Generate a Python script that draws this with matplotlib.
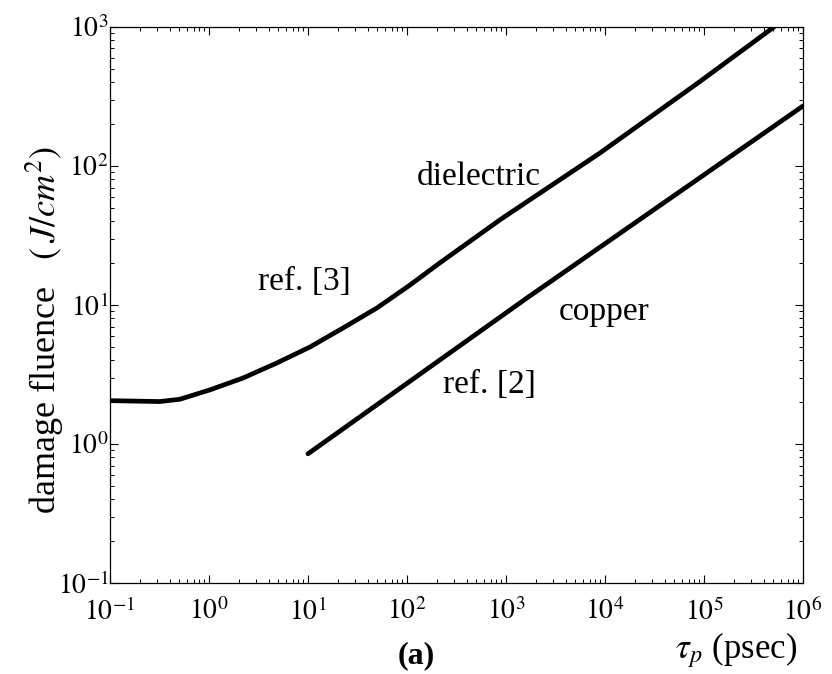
import matplotlib
matplotlib.use("Agg")
import matplotlib.pyplot as plt
from matplotlib.ticker import LogLocator, FixedLocator, FixedFormatter, NullFormatter

plt.rcParams['font.family'] = ['Liberation Serif', 'DejaVu Serif']
plt.rcParams['mathtext.fontset'] = 'stix'

# Data
diel_tau = [0.1, 0.32, 0.51, 1.02, 2.2, 4.86, 10.5, 22.6, 49.8, 107, 215, 870, 8900, 91000, 5.1e5]
diel_F = [2.05, 2.02, 2.10, 2.45, 2.98, 3.83, 4.99, 6.83, 9.52, 13.9, 20.1, 41, 124, 405, 1000]

cu_tau = [10, 1620, 1e6]
cu_F = [0.85, 11.2, 270]

x_ticks = [1e-1, 1e0, 1e1, 1e2, 1e3, 1e4, 1e5, 1e6]
x_ticklabels = [r'$10^{-1}$', r'$10^{0}$', r'$10^{1}$', r'$10^{2}$', r'$10^{3}$',
                r'$10^{4}$', r'$10^{5}$', r'$10^{6}$']
y_ticks = [1e-1, 1e0, 1e1, 1e2, 1e3]
y_ticklabels = [r'$10^{-1}$', r'$10^{0}$', r'$10^{1}$', r'$10^{2}$', r'$10^{3}$']

fig = plt.figure(figsize=(8.32, 6.74), dpi=100)
ax = fig.add_axes([0.1322, 0.135, 0.8329, 0.825])

ax.plot(diel_tau, diel_F, color='black', lw=3.4, solid_capstyle='round', solid_joinstyle='round')
ax.plot(cu_tau, cu_F, color='black', lw=3.4, solid_capstyle='round', solid_joinstyle='round')

ax.set_xscale('log')
ax.set_yscale('log')
ax.set_xlim(1e-1, 1e6)
ax.set_ylim(1e-1, 1e3)

ax.xaxis.set_major_locator(FixedLocator(x_ticks))
ax.xaxis.set_major_formatter(FixedFormatter(x_ticklabels))
ax.yaxis.set_major_locator(FixedLocator(y_ticks))
ax.yaxis.set_major_formatter(FixedFormatter(y_ticklabels))
ax.xaxis.set_minor_locator(LogLocator(base=10, subs=range(2, 10), numticks=20))
ax.yaxis.set_minor_locator(LogLocator(base=10, subs=range(2, 10), numticks=20))
ax.xaxis.set_minor_formatter(NullFormatter())
ax.yaxis.set_minor_formatter(NullFormatter())

ax.tick_params(which='both', direction='in', top=True, right=True, colors='black')
ax.tick_params(which='major', length=6, width=0.8)
ax.tick_params(which='minor', length=3, width=0.7)
ax.tick_params(axis='x', which='major', labelsize=20, pad=11)
ax.tick_params(axis='y', which='major', labelsize=20, pad=1)
for s in ax.spines.values():
    s.set_linewidth(0.9)

# annotations
ax.text(533, 83, 'dielectric', fontsize=24, ha='center', va='center')
ax.text(9.3, 14.6, 'ref. [3]', fontsize=24, ha='center', va='center')
ax.text(676, 2.66, 'ref. [2]', fontsize=24, ha='center', va='center')
ax.text(9770, 8.9, 'copper', fontsize=24, ha='center', va='center')

fig.text(45 / 832, 1 - 330 / 674, r'damage fluence   $(\,J/cm^{2})$', rotation=90,
         fontsize=26, ha='center', va='center')
fig.text(736 / 832, 1 - 650 / 674, r'$\tau_p$ (psec)', fontsize=25, ha='center', va='center')
fig.text(416 / 832, 1 - 656 / 674, '(a)', fontsize=23, fontweight='bold', ha='center', va='center')

fig.savefig('out.png', dpi=100)
